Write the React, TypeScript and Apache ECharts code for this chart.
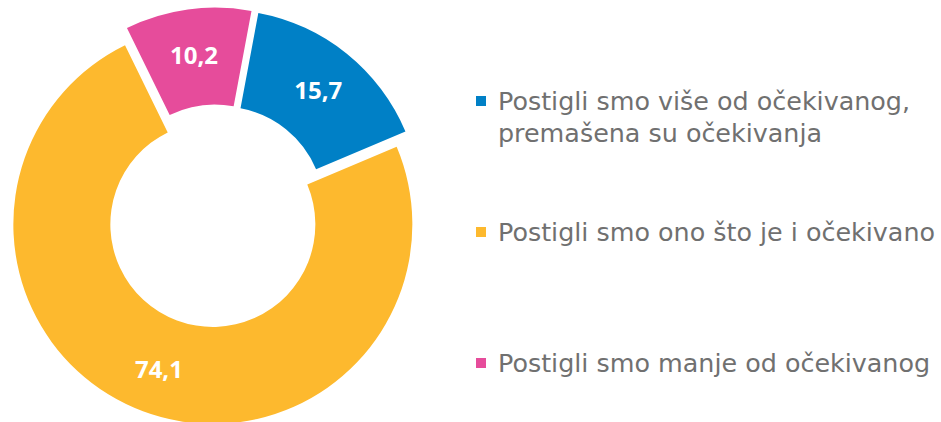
import React, { useEffect, useRef } from "react";
import * as echarts from "echarts";

const categories = [
  "Postigli smo više od očekivanog, premašena su očekivanja",
  "Postigli smo ono što je i očekivano",
  "Postigli smo manje od očekivanog",
];
const legendLines = [
  ["Postigli smo više od očekivanog,", "premašena su očekivanja"],
  ["Postigli smo ono što je i očekivano"],
  ["Postigli smo manje od očekivanog"],
];
const values = [15.7, 74.1, 10.2];
const colors = ["#0080C6", "#FDB92E", "#E64C9B"];

export default function App() {
  const ref = useRef<HTMLDivElement>(null);
  useEffect(() => {
    if (!ref.current) return;
    const chart = echarts.init(ref.current, null, { renderer: "svg" });
    chart.setOption({
      animation: false,
      backgroundColor: "#ffffff",
      legend: {
        orient: "vertical",
        left: 476,
        top: 53,
        padding: 0,
        itemGap: 35,
        itemWidth: 10,
        itemHeight: 10,
        icon: "rect",
        selectedMode: false,
        data: categories,
        formatter: (name: string) => {
          const i = categories.indexOf(name);
          const lines = legendLines[i];
          return lines.length === 2 ? "\n" + lines.join("\n") : "\n" + lines[0] + "\n";
        },
        textStyle: {
          fontFamily: "DejaVu Sans",
          fontSize: 25.4,
          lineHeight: 32,
          color: "#707070",
          padding: [0, 0, 0, 7],
        },
      },
      series: [
        {
          type: "pie",
          center: [216, 216],
          radius: [102.5, 199.5],
          startAngle: 79.4,
          clockwise: true,
          selectedMode: "multiple",
          selectedOffset: 9,
          avoidLabelOverlap: false,
          emphasis: { disabled: true },
          label: {
            show: true,
            position: "inside",
            color: "#ffffff",
            fontFamily: "Open Sans",
            fontWeight: "bold",
            fontSize: 24,
            formatter: (p: any) => p.value.toFixed(1).replace(".", ","),
          },
          labelLine: { show: false },
          data: categories.map((name, i) => ({
            name,
            value: values[i],
            selected: true,
            itemStyle: { color: colors[i] },
          })),
        },
      ],
    });
    return () => chart.dispose();
  }, []);
  return (
    <div
      ref={ref}
      style={{ position: "absolute", left: 0, top: 0, width: 941, height: 422 }}
    />
  );
}
